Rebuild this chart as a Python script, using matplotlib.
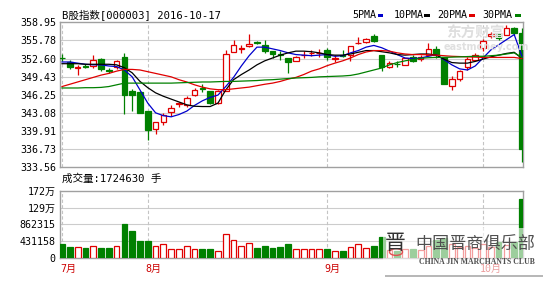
import matplotlib
matplotlib.use('Agg')
import matplotlib.pyplot as plt
from matplotlib.patches import Rectangle, Circle
from matplotlib.transforms import blended_transform_factory

# ---------------- data ----------------
opens = [352.75, 352.0, 351.0, 351.3, 351.25, 352.5, 350.6, 351.05, 352.8, 347.0,
         346.75, 343.4, 340.3, 341.5, 343.2, 344.6, 344.4, 346.2, 347.4, 346.9,
         344.85, 347.0, 353.7, 354.3, 354.75, 355.45, 355.0, 353.9, 353.35, 352.7,
         352.2, 353.2, 353.5, 353.5, 354.05, 352.6, 353.25, 353.3, 355.25, 355.45,
         356.5, 353.3, 351.1, 351.7, 351.55, 352.8, 352.45, 353.3, 354.25, 352.8,
         347.75, 349.0, 351.1, 352.4, 354.45, 356.5, 356.9, 356.8, 358.0, 357.0]
highs = [353.4, 352.3, 351.5, 351.7, 353.2, 352.7, 350.95, 352.4, 353.6, 347.3,
         346.9, 343.45, 341.5, 343.1, 344.4, 345.05, 346.0, 347.45, 348.15, 347.0,
         347.1, 354.15, 355.9, 355.0, 356.9, 355.75, 355.9, 353.9, 353.85, 352.7,
         353.1, 354.0, 354.15, 354.3, 354.45, 353.2, 354.15, 354.8, 356.3, 356.2,
         356.9, 353.3, 352.1, 352.2, 352.75, 353.15, 353.2, 355.3, 354.75, 352.9,
         349.5, 350.65, 352.8, 353.5, 356.1, 357.25, 357.0, 358.5, 358.2, 357.9]
lows = [352.2, 350.8, 349.8, 351.0, 351.0, 350.5, 350.1, 350.8, 342.9, 343.5,
        343.0, 338.4, 339.45, 341.0, 342.5, 344.15, 344.05, 346.0, 346.75, 344.6,
        344.6, 347.0, 353.7, 353.6, 354.55, 355.15, 353.55, 352.7, 352.4, 350.1,
        352.1, 352.7, 353.0, 352.8, 352.4, 351.95, 352.8, 352.25, 355.2, 355.4,
        355.5, 350.5, 350.95, 351.05, 351.45, 352.0, 352.2, 353.3, 352.7, 348.1,
        347.15, 348.6, 350.65, 352.2, 353.9, 356.2, 355.9, 356.8, 356.8, 334.5]
closes = [352.65, 351.1, 351.1, 351.2, 352.4, 350.85, 350.5, 352.1, 346.2, 346.3,
          343.1, 340.15, 341.45, 342.8, 343.9, 344.8, 345.7, 347.15, 347.25, 344.85,
          347.0, 353.4, 354.9, 354.4, 355.2, 355.3, 353.9, 353.4, 353.2, 352.0,
          352.9, 353.3, 353.6, 353.6, 352.85, 352.7, 353.1, 354.75, 355.35, 356.05,
          355.75, 351.1, 351.8, 351.6, 352.7, 352.25, 352.95, 354.25, 353.3, 348.2,
          349.05, 350.35, 352.5, 353.3, 355.75, 356.9, 356.2, 358.0, 357.0, 336.7]
ma5 = [352.0, 352.0, 351.8, 351.6, 351.5, 351.5, 351.3, 351.2, 350.6, 349.4,
       347.1, 344.8, 343.1, 342.6, 342.4, 342.8, 343.4, 344.4, 345.2, 345.8,
       346.2, 347.7, 349.3, 351.3, 353.1, 354.6, 354.6, 354.3, 354.0, 353.6,
       353.3, 353.2, 353.1, 353.2, 353.3, 353.0, 353.1, 353.6, 354.0, 354.6,
       354.9, 354.5, 353.9, 353.3, 352.7, 352.6, 352.7, 353.0, 353.3, 352.4,
       351.5, 350.8, 350.6, 351.3, 352.7, 354.1, 355.0, 355.9, 356.8, 353.0]
ma10 = [351.7, 351.7, 351.7, 351.6, 351.6, 351.6, 351.6, 351.5, 351.0, 350.1,
        348.6, 347.5, 346.6, 346.0, 345.5, 345.0, 344.5, 344.25, 344.2, 344.2,
        344.8, 347.1, 348.9, 349.8, 350.6, 351.5, 352.2, 352.7, 353.2, 353.6,
        353.9, 353.9, 353.8, 353.6, 353.3, 353.2, 353.2, 353.4, 353.7, 354.0,
        354.0, 353.8, 353.6, 353.3, 353.2, 353.3, 353.4, 353.4, 353.2, 352.5,
        351.9, 351.8, 351.8, 352.1, 352.5, 352.9, 353.2, 353.5, 353.7, 352.6]
ma20 = [347.7, 348.1, 348.5, 348.9, 349.3, 349.7, 350.0, 350.4, 350.7, 350.7,
        350.6, 350.3, 350.0, 349.7, 349.4, 348.9, 348.5, 348.0, 347.6, 347.3,
        347.15, 347.15, 347.3, 347.45, 347.6, 347.85, 348.1, 348.3, 348.6, 349.0,
        349.3, 349.8, 350.4, 350.8, 351.35, 351.8, 352.2, 352.7, 353.3, 353.75,
        354.0, 354.0, 353.9, 353.6, 353.4, 353.3, 353.3, 353.25, 353.2, 353.1,
        353.0, 352.95, 352.9, 352.85, 352.8, 352.8, 352.8, 352.8, 352.8, 352.6]
ma30 = [347.45, 347.45, 347.45, 347.5, 347.5, 347.55, 347.7, 348.0, 348.3, 348.3,
        348.3, 348.3, 348.3, 348.3, 348.3, 348.35, 348.4, 348.45, 348.5, 348.5,
        348.55, 348.6, 348.6, 348.65, 348.7, 348.75, 348.85, 348.9, 349.0, 349.1,
        349.2, 349.25, 349.3, 349.4, 349.45, 349.5, 349.55, 349.65, 349.9, 350.25,
        350.6, 350.95, 351.5, 351.9, 352.2, 352.45, 352.65, 352.75, 352.8, 352.8,
        352.85, 352.9, 352.95, 353.0, 353.0, 353.1, 353.2, 353.4, 353.6, 352.8]
volumes = [346000, 277000, 277000, 252000, 320000, 252000, 252000, 320000, 884000, 704000,
           448000, 448000, 295000, 363000, 218000, 218000, 320000, 243000, 218000, 218000,
           192000, 619000, 474000, 295000, 389000, 252000, 295000, 260000, 277000, 346000,
           218000, 218000, 218000, 218000, 218000, 175000, 192000, 277000, 346000, 260000,
           303000, 534000, 200000, 190000, 220000, 230000, 200000, 300000, 450000, 500000,
           350000, 280000, 300000, 250000, 350000, 280000, 400000, 330000, 420000, 1520000]
price_ticks = [333.56, 336.73, 339.91, 343.08, 346.25, 349.43, 352.60, 355.78, 358.95]
vol_ticks = [0, 431158, 862315, 1293473, 1724630]
vol_tick_labels = ['0', '431158', '862315', '129万', '172万']
month_starts = [0, 11, 34, 54]
month_labels = ['7月', '8月', '9月', '10月']
title = 'B股指数[000003] 2016-10-17'
vol_title = '成交量:1724630 手'
ma_names = ['5PMA', '10PMA', '20PMA', '30PMA']

# ---------------- style ----------------
RED = '#e00000'
GREEN = '#008000'
MA_COLORS = ['#0000cc', '#000000', '#e00000', '#008000']
GRID = '#cccccc'
FRAME = '#a0a0a0'
MONO = ['DejaVu Sans Mono', 'Noto Sans CJK SC']
FS = 7.2

W, H = 552, 286
fig = plt.figure(figsize=(W / 100, H / 100), dpi=100)
fig.patch.set_facecolor('white')


def fx(x):
    return x / W


def fy(y):
    return 1 - y / H


ax = fig.add_axes([fx(60), fy(167.3), fx(523) - fx(60), fy(22.3) - fy(167.3)])
axv = fig.add_axes([fx(60), fy(258), fx(523) - fx(60), fy(190.7) - fy(258)])

n = len(closes)
xs = list(range(n))
XL = (-0.26, 59.13)

for a in (ax, axv):
    a.set_xlim(*XL)
    for s in a.spines.values():
        s.set_color(FRAME)
        s.set_linewidth(1.0)
    a.tick_params(length=0, labelsize=FS, pad=3)
    a.set_xticks([])
    for m in month_starts:
        a.axvline(m, color='#c4c4c4', lw=0.8, ls=(0, (3, 2)), zorder=1)

# price panel
ax.set_ylim(price_ticks[0], price_ticks[-1])
ax.set_yticks(price_ticks)
ax.set_yticklabels(['%.2f' % t for t in price_ticks], family=MONO, fontsize=FS)
for t in price_ticks[1:-1]:
    ax.axhline(t, color=GRID, lw=0.8, zorder=0)

bw = 0.72
for i in xs:
    o, h, l, c = opens[i], highs[i], lows[i], closes[i]
    up = c >= o
    col = RED if up else GREEN
    ax.vlines(i, l, h, color=col, lw=0.9, zorder=3)
    if abs(c - o) < 0.06:
        ax.hlines(o, i - bw / 2, i + bw / 2, color=col, lw=1.0, zorder=4)
    else:
        ax.bar(i, abs(c - o), bw, bottom=min(o, c),
               facecolor='white' if up else GREEN, edgecolor=col, lw=0.9, zorder=4)

for ma, colr in zip([ma5, ma10, ma20, ma30], MA_COLORS):
    ax.plot(xs, ma, color=colr, lw=0.9, zorder=5)

# volume panel
axv.set_ylim(0, vol_ticks[-1])
axv.set_yticks(vol_ticks)
axv.set_yticklabels(vol_tick_labels, family=MONO, fontsize=FS)
for t in vol_ticks[1:-1]:
    axv.axhline(t, color=GRID, lw=0.8, zorder=0)
for i in xs:
    up = closes[i] >= opens[i]
    axv.bar(i, volumes[i], 0.74, facecolor='white' if up else GREEN,
            edgecolor=RED if up else GREEN, lw=0.9, zorder=3)

# month labels
tr = blended_transform_factory(axv.transData, fig.transFigure)
for m, lab in zip(month_starts, month_labels):
    xm = m - 0.35 if m > 0 else m - 0.25
    axv.text(xm, fy(268.5), lab, transform=tr, ha='left', va='center',
             color='#cc0000', family=MONO, fontsize=FS)

# titles
fig.text(fx(62), fy(15), title, ha='left', va='center', family=MONO, fontsize=7.6)
fig.text(fx(62), fy(178.5), vol_title, ha='left', va='center', family=MONO, fontsize=7.6)

# legend
leg_x = [352.7, 393.3, 437.7, 482.7]
sq_x = [377.7, 424.3, 469.3, 515.3]
for name, lx, sx, colr in zip(ma_names, leg_x, sq_x, MA_COLORS):
    fig.text(fx(lx), fy(15), name, ha='left', va='center', family=MONO, fontsize=FS)
    fig.patches.append(Rectangle((fx(sx), fy(17)), 5.5 / W, 3.3 / H,
                                 transform=fig.transFigure, facecolor=colr,
                                 edgecolor='none'))

# eastmoney watermark (faint)
fig.text(fx(446), fy(33), '东方财富', ha='left', va='center', fontsize=10.5,
         family=['Noto Sans CJK SC'], color='#dedede', weight='bold', zorder=6)
fig.text(fx(444), fy(46.5), 'eastmoney.com', ha='left', va='center', fontsize=7,
         family=['DejaVu Sans'], color='#e0e0e0', weight='bold', zorder=6)

# club watermark
fig.patches.append(Rectangle((fx(385), fy(277)), 158 / W, 2.5 / H,
                             transform=fig.transFigure, facecolor='#9a9a9a',
                             edgecolor='none', alpha=0.7, zorder=7))
fig.patches.append(Rectangle((fx(383), fy(275)), 160 / W, 47 / H,
                             transform=fig.transFigure, facecolor='white',
                             edgecolor='none', alpha=0.62, zorder=7))
fig.patches.append(Circle((fx(396), fy(252)), 6.5 / W, transform=fig.transFigure,
                          facecolor='none', edgecolor='#e05050', lw=1.0, zorder=8))
fig.text(fx(385), fy(243), '晋', ha='left', va='center', fontsize=15,
         family=['Noto Sans CJK SC'], color='#333333', zorder=9)
fig.text(fx(415), fy(245), '中国晋商俱乐部', ha='left', va='center', fontsize=12.3,
         family=['Noto Sans CJK SC'], color='#505050', zorder=9)
fig.text(fx(419), fy(262.5), 'CHINA JIN MARCHANTS CLUB', ha='left', va='center',
         fontsize=5.6, family=['Liberation Serif'], color='#505050', weight='bold',
         zorder=9)

fig.savefig('out.png', dpi=100, facecolor='white')
